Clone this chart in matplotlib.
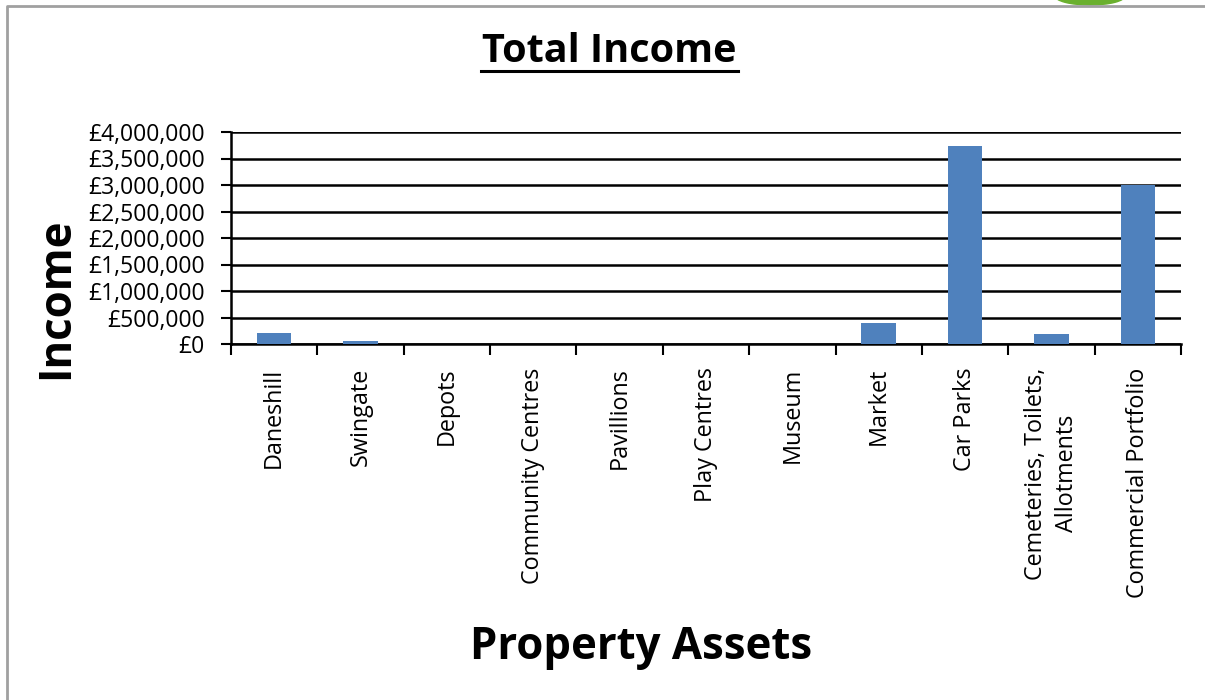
import matplotlib.pyplot as plt
from matplotlib.patches import Ellipse
from matplotlib.ticker import FuncFormatter
import numpy as np

categories = ["Daneshill", "Swingate", "Depots", "Community Centres", "Pavillions",
              "Play Centres", "Museum", "Market", "Car Parks",
              "Cemeteries, Toilets,\nAllotments", "Commercial Portfolio"]
income = [200000, 55000, 0, 0, 0, 0, 0, 400000, 3735000, 190000, 3000000]
yticks = np.arange(0, 4000001, 500000)

plt.rcParams['font.family'] = ['Open Sans', 'DejaVu Sans']

fig = plt.figure(figsize=(12.05, 7), dpi=100)
ax = fig.add_axes([231 / 1205, 1 - 344 / 700, 950 / 1205, 212 / 700])

x = np.arange(len(categories))
ax.bar(x, income, width=0.4, color="#4f81bd", zorder=3)

ax.set_xlim(-0.5, len(categories) - 0.5)
ax.set_ylim(0, 4000000)
ax.set_yticks(yticks)
ax.yaxis.set_major_formatter(FuncFormatter(lambda v, p: "£{:,.0f}".format(v)))
ax.grid(axis="y", color="black", linewidth=1.8, zorder=1)
ax.tick_params(axis="y", length=7, width=1.5, labelsize=16.5, pad=12)

ax.set_xticks(np.arange(-0.5, len(categories), 1))
ax.set_xticklabels([])
ax.set_xticks(x, minor=True)
ax.set_xticklabels(categories, minor=True, rotation=90, fontsize=16.8, va="top", ha="center",
                   linespacing=1.35)
ax.tick_params(axis="x", which="major", length=8, width=1.5, direction="out")
ax.tick_params(axis="x", which="minor", length=0, pad=17)

for s in ["top", "right"]:
    ax.spines[s].set_visible(False)
for s in ["left", "bottom"]:
    ax.spines[s].set_linewidth(1.8)

fig.text(609 / 1205, 1 - 52 / 700, "Total Income", fontsize=28.5, fontweight="bold",
         ha="center", va="center")
fig.add_artist(plt.Line2D([481 / 1205, 738 / 1205], [1 - 71 / 700, 1 - 71 / 700],
                          color="black", linewidth=2.2))
fig.text(57 / 1205, 1 - 298 / 700, "Income", fontsize=31.5, fontweight="bold",
         rotation=90, ha="center", va="center")
fig.text(641 / 1205, 1 - 648 / 700, "Property Assets", fontsize=31.5, fontweight="bold",
         ha="center", va="center")

# outer frame and logo fragment
fig.add_artist(plt.Line2D([7 / 1205, 7 / 1205, 1], [0, 1 - 6 / 700, 1 - 6 / 700],
                          color="#a0a0a0", linewidth=2))
fig.add_artist(Ellipse((1090 / 1205, 1 + 4 / 700), 70 / 1205, 18 / 700,
                       color="#6ab02e", transform=fig.transFigure))

fig.savefig("out.png", dpi=100)
